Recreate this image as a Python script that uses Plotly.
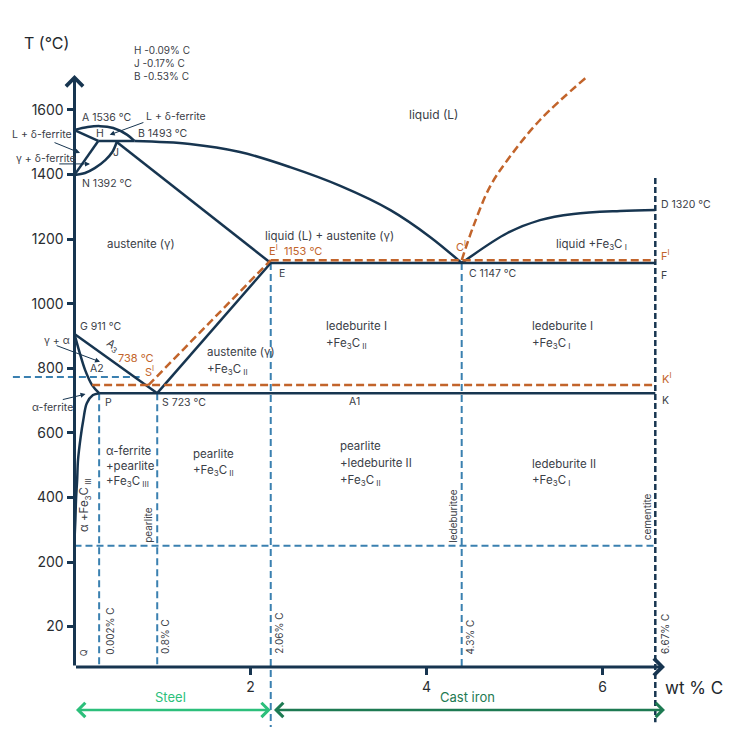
import plotly.graph_objects as go

NAVY = "#173550"
BLUE = "#3a80b0"
ORANGE = "#c2642b"
TEXT = "#3b4047"
STEEL_GREEN = "#2cbf7b"
IRON_GREEN = "#1d7a52"
FONT = "Inter"

# key points of the schematic Fe-Fe3C diagram as drawn (wt % C, °C)
A = (0.0, 1538)
H = (0.27, 1504)
J = (0.48, 1501)
B = (0.68, 1504)
N = (0.0, 1399)
G = (0.0, 906)
P = (0.28, 723)
S = (0.94, 723)
E = (2.23, 1126)
C = (4.40, 1126)
F = (6.60, 1126)
K = (6.60, 723)
D = (6.60, 1290)

# curved boundaries
ab_x = [0.0, 0.15, 0.29, 0.44, 0.60, 0.68]
ab_t = [1538, 1547, 1550, 1544, 1523, 1504]
jn_x = [0.48, 0.43, 0.35, 0.23, 0.12, 0.0]
jn_t = [1501, 1470, 1445, 1420, 1405, 1399]
bc_x = [0.68, 1.31, 1.88, 2.45, 3.02, 3.59, 4.04, 4.40]
bc_t = [1504, 1495, 1470, 1423, 1365, 1290, 1207, 1126]
cd_x = [4.40, 4.92, 5.29, 5.67, 6.20, 6.60]
cd_t = [1126, 1219, 1259, 1278, 1287, 1290]
gp_x = [0.0, 0.06, 0.12, 0.20, 0.28]
gp_t = [906, 847, 795, 748, 723]
pq_x = [0.28, 0.21, 0.14, 0.10, 0.07, 0.04, 0.03, 0.017, 0.01, 0.0]
pq_t = [723, 717, 692, 640, 587, 516, 454, 392, 330, 268]

# stable (graphite) system, dashed orange
E_st = (2.23, 1135)
S_st = (0.84, 748)
st_eutectic_x = [2.23, 6.60]
st_eutectic_t = [1135, 1135]
st_eutectoid_x = [0.20, 6.60]
st_eutectoid_t = [748, 748]
c_st_x = [4.40, 4.53, 4.72, 4.92, 5.29, 5.82]
c_st_t = [1135, 1238, 1362, 1445, 1569, 1702]

# reference lines
T_BASE = -125        # where the composition axis sits
T_ROOM = 250         # blue dashed horizontal
T_738 = 773          # blue dashed marker for 738 °C
T_BELOW = -311       # lower end of the 2.06 % line
cementite_top = 1389
cementite_bottom = -296
class_arrow_t = -258

y_ticks = [0, 200, 400, 600, 800, 1000, 1200, 1400, 1600]
y_ticktext = ["20", "200", "400", "600", "800", "1000", "1200", "1400", "1600"]
x_ticks = [2, 4, 6]

# the page sits 8 px in from the window edge, so the figure is 724 px
X_RANGE = [-0.7557, 7.4716]
Y_RANGE = [-326.5, 1915.9]

fig = go.Figure()


def line(xs, ts, color=NAVY, width=2.5, dash=None, shape="linear"):
    fig.add_trace(go.Scatter(
        x=xs, y=ts, mode="lines",
        line=dict(color=color, width=width, dash=dash, shape=shape),
        hoverinfo="skip"))


def seg(p1, p2, **kw):
    line([p1[0], p2[0]], [p1[1], p2[1]], **kw)


BLUE_DASH = "7px,4px"
ORANGE_DASH = "8px,4px"

# blue dashed construction lines
line([P[0], P[0]], [P[1], T_BASE], color=BLUE, width=2, dash=BLUE_DASH)
line([S[0], S[0]], [S[1], T_BASE], color=BLUE, width=2, dash=BLUE_DASH)
line([E[0], E[0]], [E[1], T_BELOW], color=BLUE, width=2, dash=BLUE_DASH)
line([C[0], C[0]], [C[1], T_BASE], color=BLUE, width=2, dash=BLUE_DASH)
line([0, F[0]], [T_ROOM, T_ROOM], color=BLUE, width=2, dash=BLUE_DASH)
line([-0.70, 0.74], [T_738, T_738], color=BLUE, width=2, dash=BLUE_DASH)
line([F[0], F[0]], [cementite_top, cementite_bottom], color=NAVY, width=2.5, dash="6px,3px")

# metastable system, solid navy
seg(A, H)
seg(H, B)
seg(H, N)
line(jn_x, jn_t, shape="spline")
line(ab_x, ab_t, shape="spline")
line(bc_x, bc_t, shape="spline")
seg(J, E)
seg(E, F)
line(cd_x, cd_t, shape="spline")
seg(E, S)
seg(G, S)
line(gp_x, gp_t, shape="spline")
line(pq_x, pq_t, shape="spline")
seg(P, K)

# stable system, dashed orange
line(st_eutectic_x, st_eutectic_t, color=ORANGE, width=2.5, dash=ORANGE_DASH)
line(st_eutectoid_x, st_eutectoid_t, color=ORANGE, width=2.5, dash=ORANGE_DASH)
seg(S_st, E_st, color=ORANGE, width=2.5, dash=ORANGE_DASH)
line(c_st_x, c_st_t, color=ORANGE, width=2.5, dash=ORANGE_DASH, shape="spline")

annotations = []


def arrow(tail, head, color=NAVY, width=1.0, head_style=2, size=1.0, side="end"):
    annotations.append(dict(
        x=head[0], y=head[1], ax=tail[0], ay=tail[1],
        xref="x", yref="y", axref="x", ayref="y",
        text="", showarrow=True, arrowhead=head_style, startarrowhead=head_style,
        arrowsize=size, startarrowsize=size, arrowwidth=width,
        arrowcolor=color, arrowside=side, standoff=0, startstandoff=0))


# axes with arrow heads
arrow((0, T_BASE), (0, 1708), width=3, head_style=4, size=1.1)
arrow((0, T_BASE), (6.71, T_BASE), width=3, head_style=4, size=1.1)

# steel / cast iron ranges
arrow((0, class_arrow_t), (2.23, class_arrow_t), color=STEEL_GREEN, width=2.5,
      head_style=4, size=1.1, side="end+start")
arrow((2.25, class_arrow_t), (6.71, class_arrow_t), color=IRON_GREEN, width=2.5,
      head_style=4, size=1.1, side="end+start")

# pointer arrows
arrow((0.80, 1563), (0.40, 1523))
arrow((-0.244, 1501), (0.063, 1467))
arrow((-0.19, 1433), (0.176, 1433))
arrow((-0.22, 872), (0.29, 820))
arrow((-0.15, 702), (0.125, 720))


def label(x, t, text, color=TEXT, size=11, anchor="left", angle=0):
    annotations.append(dict(
        x=x, y=t, xref="x", yref="y", text=text, showarrow=False,
        xanchor=anchor, yanchor="middle", textangle=angle,
        font=dict(family=FONT, size=size, color=color)))


fe3c_i = "+Fe<sub>3</sub>C<sub> I</sub>"
fe3c_ii = "+Fe<sub>3</sub>C<sub> II</sub>"
fe3c_iii = "+Fe<sub>3</sub>C<sub> III</sub>"

label(-0.60, 1808, "T (°C)", color="#23272c", size=16)
label(0.65, 1786, "H -0.09% C", size=10)
label(0.65, 1746, "J -0.17% C", size=10)
label(0.65, 1705, "B -0.53% C", size=10)

label(0.06, 1578, "A 1536 °C", size=10.5)
label(0.79, 1581, "L + δ-ferrite", size=10.5)
label(0.29, 1526, "H", size=10.5, anchor="center")
label(0.70, 1526, "B 1493 °C", size=10.5)
label(0.47, 1467, "J", size=10.5, anchor="center")
label(-0.73, 1523, "L + δ-ferrite", size=10.5)
label(-0.69, 1451, "γ + δ-ferrite", size=10.5)
label(0.06, 1371, "N 1392 °C", size=10.5)

label(3.78, 1585, "liquid (L)", size=12)
label(0.35, 1185, "austenite (γ)", size=11.5)
label(2.14, 1210, "liquid (L) + austenite (γ)", size=11.5)
label(2.19, 1166, "E<sup>I</sup>  1153 °C", color=ORANGE, size=11)
label(2.30, 1095, "E", size=10.5)
label(4.31, 1176, "C<sup>I</sup>", color=ORANGE, size=11)
label(4.46, 1095, "C 1147 °C", size=10.5)
label(5.45, 1182, "liquid " + fe3c_i, size=11.5)
label(6.64, 1306, "D 1320 °C", size=10.5)
label(6.64, 1148, "F<sup>I</sup>", color=ORANGE, size=11)
label(6.64, 1086, "F", size=10.5)

label(0.04, 928, "G 911 °C", size=10.5)
label(-0.37, 885, "γ + α", size=10.5)
label(0.44, 872, "A<sub>3</sub>", size=11, anchor="center", angle=35)
label(0.15, 798, "A2", size=10.5)
label(0.47, 832, "738 °C", color=ORANGE, size=11)
label(0.78, 789, "S<sup>I</sup>", color=ORANGE, size=11)
label(-0.51, 680, "α-ferrite", size=10.5)
label(0.32, 693, "P", size=10.5)
label(0.97, 693, "S 723 °C", size=10.5)

label(1.48, 850, "austenite (γ)", size=11.5)
label(1.48, 795, fe3c_ii, size=11.5)
label(2.84, 931, "ledeburite I", size=11.5)
label(2.84, 878, fe3c_ii, size=11.5)
label(5.18, 931, "ledeburite I", size=11.5)
label(5.18, 878, fe3c_i, size=11.5)
label(6.65, 767, "K<sup>I</sup>", color=ORANGE, size=11)
label(6.65, 699, "K", size=10.5)
label(3.10, 696, "A1", size=10.5)

label(0.335, 544, "α-ferrite", size=11.5)
label(0.335, 497, "+pearlite", size=11.5)
label(0.335, 448, fe3c_iii, size=11.5)
label(1.32, 535, "pearlite", size=11.5)
label(1.32, 482, fe3c_ii, size=11.5)
label(2.99, 559, "pearlite", size=11.5)
label(2.99, 507, "+ledeburite II", size=11.5)
label(2.99, 454, fe3c_ii, size=11.5)
label(5.18, 504, "ledeburite II", size=11.5)
label(5.18, 451, fe3c_i, size=11.5)

label(0.12, 377, "α " + fe3c_iii, size=11.5, anchor="center", angle=-90)
label(0.835, 315, "pearlite", size=10, anchor="center", angle=-90)
label(4.30, 343, "ledeburitee", size=10, anchor="center", angle=-90)
label(6.50, 340, "cementite", size=10, anchor="center", angle=-90)

label(0.40, -14, "0.002% C", size=10, anchor="center", angle=-90)
label(1.03, -32, "0.8% C", size=10, anchor="center", angle=-90)
label(2.32, -20, "2.06% C", size=10, anchor="center", angle=-90)
label(4.49, -32, "4.3% C", size=10, anchor="center", angle=-90)
label(6.71, -23, "6.67% C", size=10, anchor="center", angle=-90)
label(0.10, -82, "Q", size=9, anchor="center", angle=-90)

label(1.09, -218, "Steel", color=STEEL_GREEN, size=13, anchor="center")
label(4.47, -218, "Cast iron", color=IRON_GREEN, size=13, anchor="center")
label(6.69, -190, "wt % C", color="#23272c", size=17)

x_axis_pos = (T_BASE - Y_RANGE[0]) / (Y_RANGE[1] - Y_RANGE[0])
y_axis_pos = (0 - X_RANGE[0]) / (X_RANGE[1] - X_RANGE[0])

fig.update_layout(
    width=724, height=724,
    margin=dict(l=0, r=0, t=0, b=0),
    paper_bgcolor="white", plot_bgcolor="white",
    showlegend=False,
    annotations=annotations,
    xaxis=dict(
        range=X_RANGE, anchor="free", position=x_axis_pos,
        showgrid=False, zeroline=False, showline=False,
        tickvals=x_ticks, ticks="outside", ticklen=7, tickwidth=2.5,
        tickcolor=NAVY, automargin=False,
        tickfont=dict(family=FONT, size=14, color="#2a2d31")),
    yaxis=dict(
        range=Y_RANGE, anchor="free", position=y_axis_pos,
        showgrid=False, zeroline=False, showline=False,
        tickvals=y_ticks, ticktext=y_ticktext, ticks="outside", ticklen=8,
        tickwidth=2.5, tickcolor=NAVY, automargin=False,
        tickfont=dict(family=FONT, size=14, color="#2a2d31")),
)

fig.write_html("out.html")
